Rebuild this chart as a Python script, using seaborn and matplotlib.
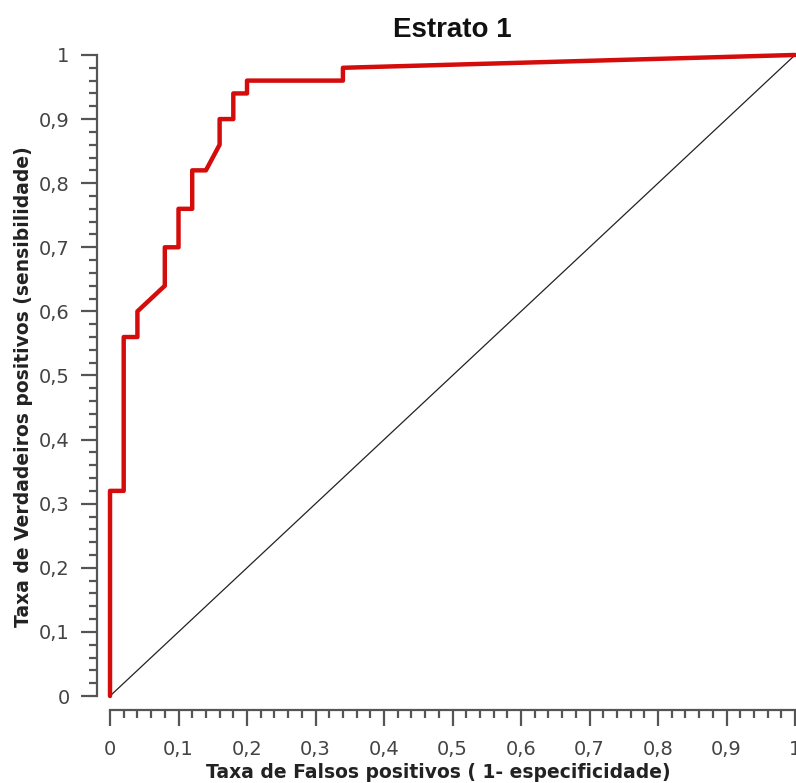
import matplotlib
matplotlib.use("Agg")
import matplotlib.pyplot as plt
from matplotlib.ticker import MultipleLocator, FuncFormatter
import seaborn as sns

# pontos da curva ROC (1 - especificidade, sensibilidade)
fpr = [0.00, 0.00, 0.02, 0.02, 0.04, 0.04, 0.08, 0.08, 0.10, 0.10, 0.12, 0.12,
       0.14, 0.16, 0.16, 0.18, 0.18, 0.20, 0.20, 0.34, 0.34, 1.00]
tpr = [0.00, 0.32, 0.32, 0.56, 0.56, 0.60, 0.64, 0.70, 0.70, 0.76, 0.76, 0.82,
       0.82, 0.86, 0.90, 0.90, 0.94, 0.94, 0.96, 0.96, 0.98, 1.00]
ref_line = [0.0, 1.0]

sns.set_style("white")
plt.rcParams['font.family'] = ['DejaVu Sans']

fig = plt.figure(figsize=(7.96, 7.83), dpi=100)
ax = fig.add_axes([0.1382, 0.1111, 0.8606, 0.8187])

sns.lineplot(x=ref_line, y=ref_line, ax=ax, color='#222222', linewidth=0.9,
             sort=False, estimator=None, clip_on=False)
sns.lineplot(x=fpr, y=tpr, ax=ax, color='#d50c0c', linewidth=3.2,
             sort=False, estimator=None, clip_on=False)

ax.set_xlim(0, 1)
ax.set_ylim(0, 1)

for side in ['top', 'right']:
    ax.spines[side].set_visible(False)
for side in ['left', 'bottom']:
    ax.spines[side].set_color('#555555')
    ax.spines[side].set_linewidth(1.6)
ax.spines['left'].set_position(('outward', 9.5))
ax.spines['bottom'].set_position(('outward', 10))

comma = FuncFormatter(lambda v, p: '0' if abs(v) < 1e-9 else ('1' if abs(v - 1) < 1e-9 else f'{v:.1f}'.replace('.', ',')))
for axis in [ax.xaxis, ax.yaxis]:
    axis.set_major_locator(MultipleLocator(0.1))
    axis.set_minor_locator(MultipleLocator(0.02))
    axis.set_major_formatter(comma)

ax.tick_params(which='major', direction='out', length=11.5, width=1.6, color='#555555',
               labelsize=14, labelcolor='#444444', left=True, bottom=True)
ax.tick_params(axis='x', which='major', pad=10)
ax.tick_params(axis='y', which='major', pad=8)
ax.tick_params(which='minor', direction='out', length=5.5, width=1.6, color='#555555',
               left=True, bottom=True)

ax.set_title('Estrato 1', fontsize=20, fontweight='bold', color='#111111', pad=13,
             family='Liberation Sans')
ax.set_xlabel('Taxa de Falsos positivos ( 1- especificidade)', fontsize=13.5,
              fontweight='bold', color='#222222')
ax.set_ylabel('Taxa de Verdadeiros positivos (sensibilidade)', fontsize=13.5,
              fontweight='bold', color='#222222')
ax.xaxis.set_label_coords(0.479, -0.104)
ax.yaxis.set_label_coords(-0.112, 0.482)

fig.savefig('out.png', dpi=100)
